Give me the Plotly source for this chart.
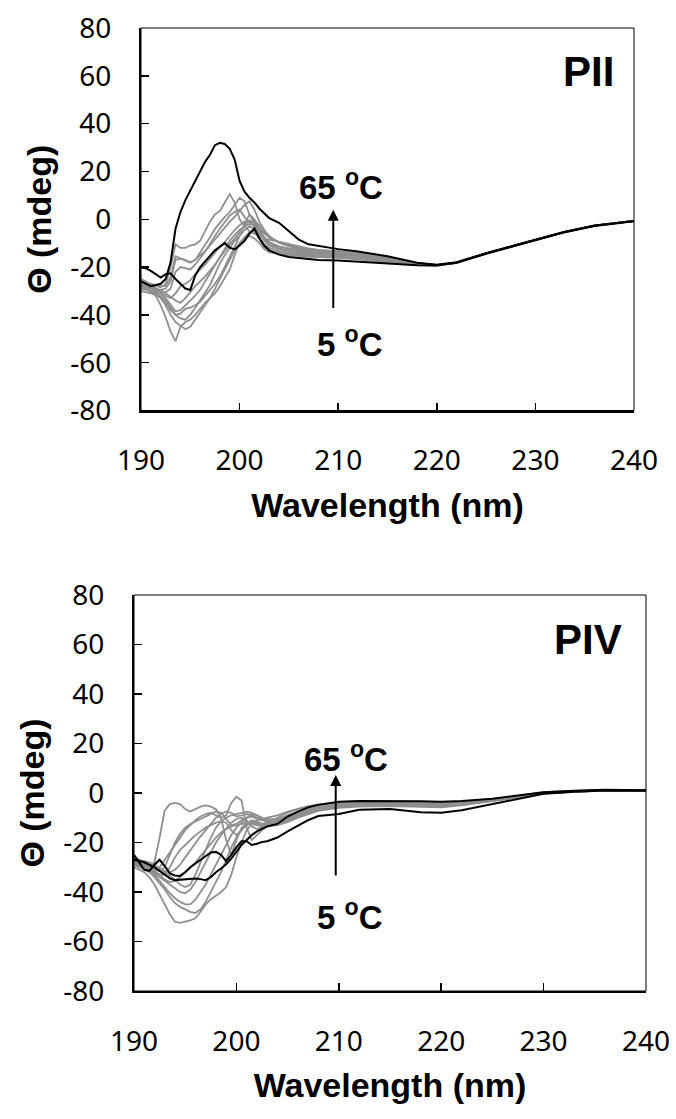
import plotly.graph_objects as go

# ---------------- data ----------------
WAVELENGTH = [190, 190.5, 191, 191.5, 192, 192.5, 193, 193.5, 194, 194.5, 195, 195.5,
              196, 196.5, 197, 197.5, 198, 198.5, 199, 199.5, 200, 200.5, 201, 201.5,
              202, 202.5, 203, 204, 205, 206, 207, 208, 210, 212, 215, 218, 220, 222,
              225, 228, 230, 233, 236, 240]

TEMPS = [5, 10, 15, 20, 25, 30, 35, 40, 45, 50, 55, 60, 65]

X_TICKS = [190, 200, 210, 220, 230, 240]
X_TICK_TEXT = ["190", "200", "210", "220", "230", "240"]
Y_TICKS = [-80, -60, -40, -20, 0, 20, 40, 60, 80]
Y_TICK_TEXT = ["-80", "-60", "-40", "-20", "0", "20", "40", "60", "80"]

# ---- PII panel (mdeg) ----
PII_05 = [-20.2, -20.5, -21.6, -23, -24.4, -23, -22.6, -25, -27, -29, -29.6, -23.5, -20, -17.5, -15.3, -13, -11.5, -10, -11.9, -12.6, -11, -9, -6, -3.9, -8, -11, -13,
          -14.8, -15.8, -16.2, -16.6, -17, -17.3, -17.8, -18.4, -19.2, -19.3, -18.2, -14.4, -11, -8.8, -5.4, -2.8, -0.8]
PII_10 = [-28, -29, -30.5, -32, -36, -41, -47, -51, -45, -43, -42, -40, -37.5, -35, -33, -31, -28, -24.5, -21, -15, -10, -8, -7, -8, -10, -12.5, -13.8,
          -14.6, -15, -15.4, -15.7, -15.8, -16.1, -16.8, -18, -19.2, -19.4, -18.2, -14.3, -10.9, -8.7, -5.3, -2.7, -0.7]
PII_15 = [-30, -30.5, -31, -31.5, -33, -36, -40, -43, -44.5, -46, -45, -42, -39, -36, -33, -29, -25, -21, -17, -13, -10, -7.5, -5.5, -5, -8, -11.5, -13,
          -14, -14.5, -15, -15.2, -15.4, -15.8, -16.5, -17.8, -19.1, -19.3, -18.2, -14.3, -10.9, -8.7, -5.3, -2.7, -0.7]
PII_20 = [-29, -29.5, -30, -31, -32.5, -35, -38, -40, -41.5, -42, -40, -37, -34, -31, -27.5, -23, -18.5, -15, -12, -9, -7, -4.5, -3, -4, -7.5, -10.5, -12,
          -13.2, -13.9, -14.4, -14.8, -15, -15.4, -16.2, -17.5, -19, -19.3, -18.2, -14.3, -10.9, -8.7, -5.3, -2.7, -0.7]
PII_25 = [-25, -26, -27.5, -29, -30.5, -33, -36, -38.5, -38, -36, -34, -32, -29.5, -26, -22.5, -19, -15.5, -12, -9, -6.5, -4.5, -3, -2, -2.5, -5, -9, -11,
          -12.5, -13.2, -13.7, -14.2, -14.5, -15, -15.8, -17.2, -18.8, -19.2, -18.2, -14.3, -10.9, -8.7, -5.3, -2.7, -0.7]
PII_30 = [-27, -28, -29, -30, -31.5, -34, -37, -40, -39.5, -37.5, -37, -36, -34.5, -32, -29.5, -27, -24, -20, -16, -11.5, -7, -2, 2, 0, -4, -8, -10.5,
          -12.2, -13, -13.6, -14, -14.3, -14.8, -15.6, -17, -18.8, -19.2, -18.2, -14.3, -10.9, -8.7, -5.3, -2.7, -0.7]
PII_35 = [-28.5, -29, -30, -30.5, -31, -32, -33, -31, -28, -27, -25.5, -23, -21, -19, -16.5, -14, -11.5, -9.5, -7, -4.5, -2.5, -1, -0.5, -3, -6, -8.5, -10,
          -11.5, -12.3, -13, -13.6, -14, -14.6, -15.4, -16.9, -18.7, -19.2, -18.2, -14.3, -10.9, -8.7, -5.3, -2.7, -0.7]
PII_40 = [-27.5, -28, -28.5, -29.5, -30, -31, -32.5, -34, -35, -33, -30.5, -28, -26, -24, -21.5, -19, -16, -13, -10.5, -8, -5.5, -2.5, -0.5, -1.5, -4.5, -7.5, -9.5,
          -11.3, -12.2, -12.8, -13.4, -13.8, -14.4, -15.2, -16.8, -18.7, -19.2, -18.2, -14.3, -10.9, -8.7, -5.3, -2.7, -0.7]
PII_45 = [-28, -28.5, -29, -29.5, -30, -30.5, -29, -22, -20, -20.5, -21, -19, -16, -13.5, -11, -8.5, -6, -3.5, -1, 1, 3.5, 6, 7.5, 4, -1, -4.5, -7,
          -9.8, -11.3, -12.4, -13, -13.5, -14.2, -15, -16.6, -18.6, -19.2, -18.1, -14.3, -10.9, -8.7, -5.3, -2.7, -0.7]
PII_50 = [-27, -27.5, -28, -29, -29.5, -29, -26, -17, -16.5, -17, -18, -17, -14, -11, -7.5, -4, -1.5, 1, 3, 6, 9, 7.5, 2, -1.5, -4, -6, -7.5,
          -9.5, -11, -12, -12.7, -13.2, -13.8, -14.6, -16.3, -18.5, -19.1, -18.1, -14.3, -10.9, -8.7, -5.3, -2.7, -0.7]
PII_55 = [-25.5, -26.5, -27, -27.5, -28, -28, -24, -15.5, -16.5, -17.5, -18.2, -17, -15, -13.5, -10, -7, -4, -1, 1.5, 3, 4, 1, -1.5, -0.5, -2.5, -5.5, -7.5,
          -9.8, -11, -12, -12.5, -13, -13.6, -14.4, -16.2, -18.5, -19.1, -18.1, -14.3, -10.9, -8.7, -5.3, -2.7, -0.7]
PII_60 = [-26, -27, -27.5, -28, -28.5, -27, -20, -10.5, -12, -12, -11, -10.5, -9, -5, -1, 2, 3.5, 7, 10.5, 7, 0, -3, -5, -6, -7, -8, -8.5,
          -9.5, -10.5, -11.5, -12.2, -12.8, -13.3, -14.2, -16, -18.4, -19.1, -18.1, -14.3, -10.9, -8.7, -5.3, -2.7, -0.7]
PII_65 = [-26, -27, -28, -27.5, -27, -25, -18, -4, 3, 8, 12, 16, 20.5, 24, 27, 31, 32, 31.5, 29.5, 25, 16, 11.5, 9, 7, 4.5, 2.5, 0.5,
          -1.5, -5, -8.5, -10.5, -11.2, -12.5, -13.5, -15.5, -18.2, -19, -18, -14.2, -10.8, -8.6, -5.2, -2.6, -0.7]

# ---- PIV panel (mdeg) ----
PIV_05 = [-25, -28, -31, -31.5, -29, -27, -29.5, -32.5, -33.3, -33.5, -32, -30, -28.5, -27, -25.5, -24, -23.8, -25, -27.5, -25, -22, -19.5, -19.5, -21, -20.5, -19.8, -19.5,
          -18, -15.5, -13.2, -11, -9.3, -8.5, -6.8, -6.5, -7.8, -8, -7, -4.5, -1.8, -0.3, 0.5, 1.0, 0.9]
PIV_10 = [-29, -30, -31, -32, -34, -36.5, -39, -42, -44.5, -46, -47, -48, -48.5, -47, -44, -40, -36, -32, -27, -22, -18, -15, -13, -12, -12.5, -13, -13.5,
          -13, -11.8, -10, -8.5, -7.2, -6, -5.5, -5.3, -5.5, -5.8, -5, -3.4, -1.5, -0.2, 0.6, 1.0, 0.9]
PIV_15 = [-28, -29, -30, -31.5, -33, -35.5, -38, -40.5, -42.5, -44, -45, -45, -43, -40, -37, -33, -29, -25, -21, -17, -14, -12, -10, -8.5, -9, -10, -11.5,
          -12.5, -11.5, -9.5, -8, -6.8, -5.5, -5, -4.8, -5, -5.3, -4.6, -3.2, -1.4, -0.1, 0.6, 1.0, 0.9]
PIV_20 = [-27.5, -28.5, -29, -29.5, -30, -31, -32, -33.5, -35, -37, -38, -37, -33, -28, -23, -18, -14, -11.5, -10, -9, -8.5, -8, -7.5, -8, -9, -10.5, -12,
          -12.3, -10.8, -9.2, -7.8, -6.6, -5.4, -4.9, -4.7, -4.9, -5.2, -4.5, -3.1, -1.4, -0.1, 0.6, 1.0, 0.9]
PIV_25 = [-30, -31, -32, -34, -37, -41, -45, -49, -52, -52.5, -52, -51.5, -50.5, -48, -45, -43, -41.5, -40, -38, -33, -26, -20, -15, -12.5, -11, -10.5, -10.5,
          -11, -10, -8.5, -7.2, -6.3, -5.3, -5, -4.8, -5, -5.3, -4.6, -3.2, -1.4, -0.1, 0.6, 1.0, 0.9]
PIV_30 = [-29, -30, -30.5, -31, -32, -33, -33, -30, -26, -23, -21, -19, -17, -15.5, -14, -13, -12, -11.5, -12, -15, -17, -15, -12.5, -11, -11.5, -12.5, -13,
          -12, -10.5, -8.5, -7, -6, -5, -4.7, -4.5, -4.7, -5, -4.4, -3, -1.3, 0, 0.7, 1.1, 1.0]
PIV_35 = [-27, -28, -29.5, -31, -32.5, -34, -35.5, -37, -38.5, -40, -40.5, -39, -36, -32, -28, -24, -20, -17, -14.5, -12, -10.5, -10, -11, -13.5, -14.5, -14, -13,
          -11.5, -10, -8.3, -7, -6, -5, -4.6, -4.4, -4.6, -4.9, -4.3, -3, -1.3, 0, 0.7, 1.1, 1.0]
PIV_40 = [-26, -27, -28.5, -30, -31, -31.5, -30, -25, -20, -16.5, -14, -12.5, -11.5, -10.5, -9.5, -8.5, -7.5, -8, -10.5, -13, -12.5, -11, -10, -9.5, -10.5, -11, -11,
          -10.5, -9, -7.8, -6.5, -5.8, -4.8, -4.5, -4.3, -4.5, -4.8, -4.2, -2.9, -1.2, 0.1, 0.7, 1.1, 1.0]
PIV_45 = [-28.5, -29.5, -30, -30.5, -31.5, -33, -35, -36, -35.5, -34, -32, -30, -28, -25.5, -23, -20.5, -18, -16, -14.5, -13.5, -13, -12.5, -12, -12.5, -13, -13.5, -12.5,
          -11, -9.2, -7.8, -6.6, -5.7, -4.7, -4.3, -4.1, -4.3, -4.6, -4.1, -2.9, -1.2, 0.1, 0.7, 1.1, 1.0]
PIV_50 = [-28, -29, -30, -30, -31, -30, -27, -24, -21, -18, -15, -13, -11, -9.5, -8.5, -8, -9, -10, -9, -4, -1.5, -3, -14, -19, -17, -15, -13.5,
          -11.5, -9.5, -7.5, -6.2, -5.5, -4.5, -4.2, -4, -4.2, -4.5, -4, -2.8, -1.1, 0.1, 0.7, 1.1, 1.0]
PIV_55 = [-27, -28, -29, -29.5, -28, -18, -7, -4.5, -4, -4.5, -6.5, -7.5, -6.5, -5.5, -5, -5.5, -6.5, -10, -19, -25, -19, -14, -12, -11.5, -12, -12.5, -12,
          -10, -8, -6.5, -5.5, -4.8, -4, -3.8, -3.7, -3.9, -4.2, -3.8, -2.6, -1, 0.2, 0.8, 1.1, 1.0]
PIV_60 = [-26, -27, -27.5, -28, -29, -30.5, -31.5, -32, -31, -29, -26, -23, -20, -17.5, -15, -12.5, -10, -8.5, -7.5, -8, -9.5, -9, -8.5, -9, -10, -10.5, -10,
          -9, -7.5, -6.3, -5.3, -4.6, -3.8, -3.5, -3.4, -3.6, -3.9, -3.5, -2.5, -0.9, 0.3, 0.8, 1.2, 1.0]
PIV_65 = [-27, -27.5, -28, -29, -30, -31.5, -33, -34.5, -35.2, -35, -34.8, -34.7, -34.5, -34.8, -35.2, -34, -32, -30.5, -28.8, -26.5, -23.5, -21, -19, -17, -15.5, -14.5, -13.5,
          -12.5, -9.5, -7.5, -5.8, -4.8, -3.5, -3.2, -3.1, -3.3, -3.5, -3.2, -2.3, -0.8, 0.3, 0.9, 1.3, 1.1]

PII_SERIES = [PII_05, PII_10, PII_15, PII_20, PII_25, PII_30, PII_35,
              PII_40, PII_45, PII_50, PII_55, PII_60, PII_65]
PIV_SERIES = [PIV_05, PIV_10, PIV_15, PIV_20, PIV_25, PIV_30, PIV_35,
              PIV_40, PIV_45, PIV_50, PIV_55, PIV_60, PIV_65]

# ---------------- figure ----------------
GRAY = "#8f8f8f"
BLACK = "#000000"
TICK_FONT = dict(family="Noto Sans, DejaVu Sans, sans-serif", size=28, color=BLACK)
TITLE_FONT = dict(family="Liberation Sans, Arial, sans-serif", size=34, color=BLACK, weight="bold")

fig = go.Figure()

panels = [("PII", PII_SERIES, "x", "y"), ("PIV", PIV_SERIES, "x2", "y2")]
for label, series, xa, ya in panels:
    for t, vals in zip(TEMPS, series):
        if t in (5, 65):
            continue
        fig.add_trace(go.Scatter(x=WAVELENGTH, y=vals, mode="lines", name=f"{label} {t} °C",
                                 line=dict(color=GRAY, width=1.8), xaxis=xa, yaxis=ya,
                                 showlegend=False, hoverinfo="skip"))
    for t, vals in zip(TEMPS, series):
        if t not in (5, 65):
            continue
        fig.add_trace(go.Scatter(x=WAVELENGTH, y=vals, mode="lines", name=f"{label} {t} °C",
                                 line=dict(color=BLACK, width=2), xaxis=xa, yaxis=ya,
                                 showlegend=False, hoverinfo="skip"))


def xaxis_cfg(domain, anchor):
    return dict(domain=domain, anchor=anchor, range=[190, 240],
                tickmode="array", tickvals=X_TICKS, ticktext=X_TICK_TEXT,
                ticks="inside", ticklen=8, tickwidth=1.5, tickcolor=BLACK,
                showline=True, linewidth=2, linecolor=BLACK, mirror=False,
                showgrid=False, zeroline=False, tickfont=TICK_FONT,
                ticklabelstandoff=24, automargin=False,
                title=dict(text="Wavelength (nm)", font=TITLE_FONT, standoff=16))


def yaxis_cfg(domain, anchor):
    return dict(domain=domain, anchor=anchor, range=[-80, 80],
                tickmode="array", tickvals=Y_TICKS, ticktext=Y_TICK_TEXT,
                ticks="inside", ticklen=8, tickwidth=1.5, tickcolor=BLACK,
                showline=True, linewidth=2, linecolor=BLACK, mirror=False,
                showgrid=False, zeroline=False, tickfont=TICK_FONT,
                ticklabelstandoff=22, automargin=False,
                title=dict(text="Θ (mdeg)", font=TITLE_FONT, standoff=8))


W, H = 676, 1119
fig.update_layout(
    width=W, height=H, autosize=False,
    margin=dict(l=0, r=0, t=0, b=0, autoexpand=False),
    paper_bgcolor="white", plot_bgcolor="white",
    showlegend=False,
    xaxis=xaxis_cfg([141 / W, 634 / W], "y"),
    yaxis=yaxis_cfg([1 - 410.5 / H, 1 - 28 / H], "x"),
    xaxis2=xaxis_cfg([134 / W, 646 / W], "y2"),
    yaxis2=yaxis_cfg([1 - 991 / H, 1 - 595 / H], "x2"),
)

# thin frame around each plot
for xa, ya in (("x", "y"), ("x2", "y2")):
    fig.add_shape(type="rect", xref=f"{xa} domain", yref=f"{ya} domain",
                  x0=0, x1=1, y0=0, y1=1, line=dict(color=BLACK, width=1),
                  layer="above")

ANN_FONT = dict(family="Liberation Sans, Arial, sans-serif", size=33, color=BLACK, weight="bold")
LABEL_FONT = dict(family="Liberation Sans, Arial, sans-serif", size=42, color=BLACK, weight="bold")

# panel annotations: (xref, yref, name, name_xy, hi_xy, lo_xy, arrow_x, arrow_head_y, arrow_tail_y)
ann_specs = [
    ("x", "y", "PII", (235.4, 62), (210.3, 14.2), (211.1, -51.5), 209.5, 4.0, -37.7),
    ("x2", "y2", "PIV", (234.3, 62), (210.7, 14.5), (211.0, -49.3), 209.7, 7.3, -33.9),
]
for xr, yr, name, nxy, hxy, lxy, axx, hy, ty in ann_specs:
    fig.add_annotation(x=nxy[0], y=nxy[1], xref=xr, yref=yr, text=name,
                       showarrow=False, font=LABEL_FONT)
    fig.add_annotation(x=hxy[0], y=hxy[1], xref=xr, yref=yr, text="65 <sup>o</sup>C",
                       showarrow=False, font=ANN_FONT)
    fig.add_annotation(x=lxy[0], y=lxy[1], xref=xr, yref=yr, text="5 <sup>o</sup>C",
                       showarrow=False, font=ANN_FONT)
    fig.add_annotation(x=axx, y=hy, xref=xr, yref=yr, ax=axx, ay=ty, axref=xr, ayref=yr,
                       text="", showarrow=True, arrowhead=2, arrowsize=1.1,
                       arrowwidth=2, arrowcolor=BLACK, standoff=0)

# remove the browser's default 8px page margin so the figure sits at (0, 0)
fig.write_html("out.html", config={"displayModeBar": False, "staticPlot": True},
               post_script="document.body.style.margin='0px';")
